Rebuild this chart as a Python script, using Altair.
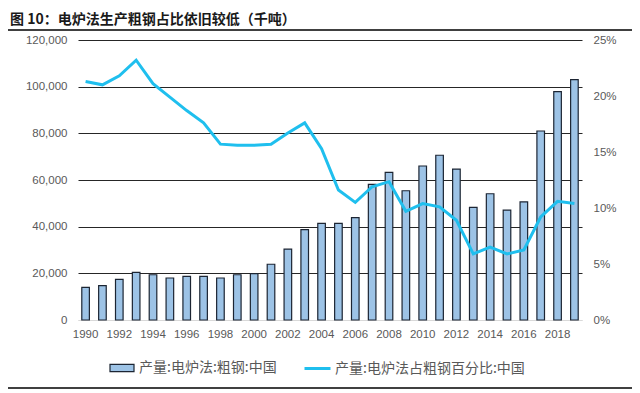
import altair as alt
import pandas as pd

years = list(range(1990, 2020))
production = [14000, 14700, 17400, 20400, 19400, 18000, 18700, 18700, 18000, 19400,
              19900, 23900, 30400, 38700, 41400, 41400, 43900, 58100, 63300, 55400,
              66000, 70600, 64700, 48300, 54100, 47100, 50600, 81000, 97900, 103000]
share_pct = [21.3, 21.0, 21.8, 23.2, 21.1, 19.9, 18.7, 17.6, 15.7, 15.6,
             15.6, 15.7, 16.7, 17.6, 15.3, 11.6, 10.5, 11.9, 12.35, 9.7,
             10.4, 10.1, 8.9, 5.9, 6.5, 5.9, 6.25, 9.2, 10.6, 10.4]
bar_name = "产量:电炉法:粗钢:中国"
line_name = "产量:电炉法占粗钢百分比:中国"
title_text = "图 10：电炉法生产粗钢占比依旧较低（千吨）"
left_ticks = [0, 20000, 40000, 60000, 80000, 100000, 120000]
right_ticks = [0, 5, 10, 15, 20, 25]
x_label_years = years[::2]

df = pd.DataFrame({"year": years, "production": production, "share": share_pct,
                   "bar": bar_name, "line": line_name})

NUM_FONT = "Liberation Sans"
CJK_FONT = "Noto Sans CJK SC"
LABEL_COLOR = "#595959"

x = alt.X("year:O",
          scale=alt.Scale(paddingInner=0.55, paddingOuter=0.225),
          axis=alt.Axis(values=x_label_years, title=None, labelAngle=0, ticks=False, tickSize=0,
                        domain=True, domainColor="#d9d9d9", domainWidth=1, labelPadding=8,
                        labelFont=NUM_FONT, labelFontSize=11.5, labelColor=LABEL_COLOR, grid=False))

bars = alt.Chart(df).mark_bar(stroke="#1c2533", strokeWidth=1.2).encode(
    x=x,
    y=alt.Y("production:Q", scale=alt.Scale(domain=[0, 120000], nice=False),
            axis=alt.Axis(values=left_ticks, labelExpr="format(datum.value, ',')", title=None, grid=True,
                          gridColor={"condition": {"test": "datum.value === 0", "value": "#d9d9d9"},
                                     "value": "#262626"},
                          gridWidth=1.2, domain=False, ticks=False, tickSize=0, labelPadding=11,
                          labelFont=NUM_FONT, labelFontSize=11.5, labelColor=LABEL_COLOR)),
    fill=alt.Fill("bar:N", scale=alt.Scale(domain=[bar_name], range=["#9dc3e6"]),
                  legend=alt.Legend(title=None, orient="none", legendX=31, legendY=315, padding=0,
                                    symbolType="M-1,-0.3H1V0.3H-1Z", symbolSize=576,
                                    symbolStrokeColor="#1c2533", symbolStrokeWidth=1.2,
                                    labelFont=CJK_FONT, labelFontSize=14, labelColor=LABEL_COLOR,
                                    labelOffset=4, labelLimit=300)),
)

line = alt.Chart(df).mark_line(strokeWidth=3).encode(
    x=x,
    y=alt.Y("share:Q", scale=alt.Scale(domain=[0, 25], nice=False),
            axis=alt.Axis(orient="right", values=right_ticks, labelExpr="datum.value + '%'",
                          title=None, grid=False, domain=False, ticks=False, tickSize=0,
                          labelPadding=11, labelFont=NUM_FONT, labelFontSize=11.5,
                          labelColor=LABEL_COLOR)),
    stroke=alt.Stroke("line:N", scale=alt.Scale(domain=[line_name], range=["#1fbfee"]),
                      legend=alt.Legend(title=None, orient="none", legendX=225, legendY=314, padding=0,
                                        symbolType="stroke", symbolSize=676, symbolStrokeWidth=3,
                                        labelFont=CJK_FONT, labelFontSize=14, labelColor=LABEL_COLOR,
                                        labelOffset=3, labelLimit=300)),
)

title_mark = alt.Chart(pd.DataFrame({"t": [title_text]})).mark_text(
    align="left", baseline="middle", font=CJK_FONT, fontSize=14, fontWeight="bold", color="#1a1a1a"
).encode(text="t:N", x=alt.value(-68), y=alt.value(-20))

one = pd.DataFrame({"k": [0]})
top_rule = alt.Chart(one).mark_rule(color="#404040", strokeWidth=1.8).encode(
    x=alt.value(-70), x2=alt.value(554), y=alt.value(-10))
bottom_rule = alt.Chart(one).mark_rule(color="#404040", strokeWidth=1.8).encode(
    x=alt.value(-70), x2=alt.value(554), y=alt.value(348))

chart = alt.layer(bars, line, title_mark, top_rule, bottom_rule).resolve_scale(
    y="independent"
).properties(
    width=504, height=280,
    padding={"left": 70, "top": 32, "right": 50, "bottom": 73},
    autosize=alt.AutoSizeParams(type="none"),
).configure_view(stroke=None)

chart.save("out.html", embed_options={"renderer": "svg", "actions": False})
